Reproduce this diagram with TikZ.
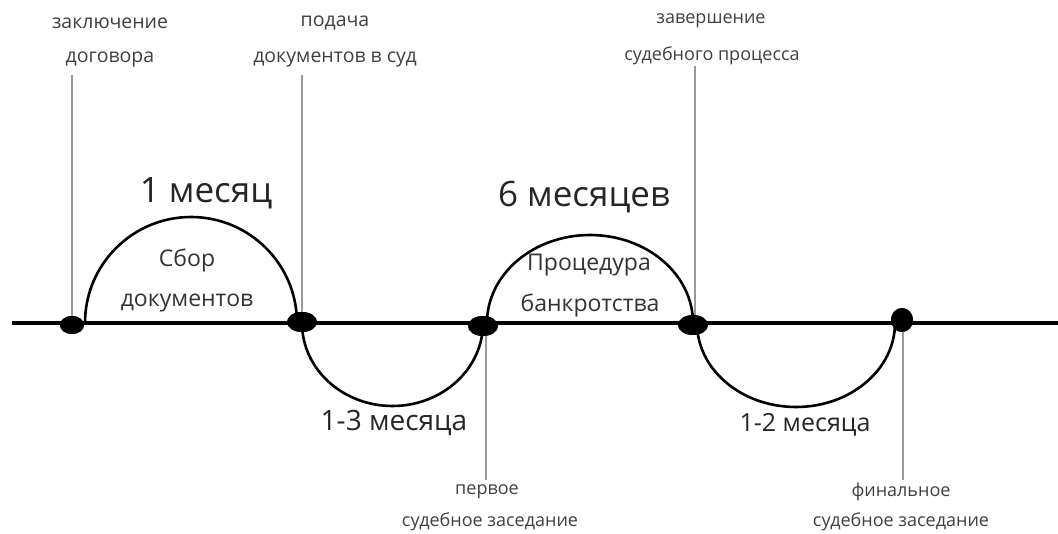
\documentclass[tikz,border=0pt]{standalone}
\usepackage{fontspec}
\setmainfont{Open Sans}
\usetikzlibrary{shapes.geometric}
\begin{document}
\begin{tikzpicture}[x=1pt,y=1pt,
  dot/.style={ellipse,fill=black,inner sep=0pt},
  guide/.style={draw=black!40,line width=1.3pt},
  arcline/.style={line width=2.6pt},
  lbl/.style={font=\fontsize{18}{18}\selectfont,text=black!75,inner sep=0pt},
  lblb/.style={font=\fontsize{19.5}{19.5}\selectfont,text=black!75,inner sep=0pt},
  big/.style={font=\fontsize{35}{35}\selectfont,text=black!85,inner sep=0pt},
  mid/.style={font=\fontsize{23}{23}\selectfont,text=black!80,inner sep=0pt}
]
\useasboundingbox (0,0) rectangle (1058,-534);
\fill[white] (0,0) rectangle (1058,-534);

% dots
\node[dot,minimum width=24pt,minimum height=18pt] (d1) at (72,-325) {};
\node[dot,minimum width=30pt,minimum height=20pt] (d2) at (302,-322) {};
\node[dot,minimum width=30pt,minimum height=20pt] (d3) at (483,-326) {};
\node[dot,minimum width=30pt,minimum height=20pt] (d4) at (693,-325) {};
\node[dot,minimum width=22pt,minimum height=24pt] (d5) at (902,-320) {};

% guide ends
\coordinate (g1) at (72,-75);
\coordinate (g2) at (302,-75);
\coordinate (g3) at (695,-66);
\coordinate (g4) at (486,-480);
\coordinate (g5) at (903,-480);

% guide lines
\draw[guide] (g1) -- (d1.center);
\draw[guide] (g2) -- (d2.center);
\draw[guide] (g3) -- (g3 |- d4.center);
\draw[guide] (g4) -- (g4 |- d3.center);
\draw[guide] (g5) -- (g5 |- d5.center);

% main line
\coordinate (L) at (12,-323);
\coordinate (R) at (1058,-323);
\draw[line width=3.2pt] (L) -- (R);
\draw[line width=4.6pt] (d2 |- L) -- (d5 |- L);

% arcs
\coordinate (a1) at (85,-323);
\coordinate (a2) at (302,-323);
\coordinate (a3) at (487,-323);
\coordinate (a4) at (697,-323);
\draw[arcline] (a1) arc[start angle=180,end angle=0,radius=106];
\draw[arcline] (a2) arc[start angle=180,end angle=360,x radius=90.5,y radius=83];
\draw[arcline] (a3) arc[start angle=180,end angle=0,x radius=103,y radius=88];
\draw[arcline] (a4) arc[start angle=180,end angle=360,x radius=99,y radius=84];

% redraw dots on top
\fill (d1.center) ellipse[x radius=12pt,y radius=9pt];
\fill (d2.center) ellipse[x radius=15pt,y radius=10pt];
\fill (d3.center) ellipse[x radius=15pt,y radius=10pt];
\fill (d4.center) ellipse[x radius=15pt,y radius=10pt];
\fill (d5.center) ellipse[x radius=11pt,y radius=12pt];

% top labels
\node[lblb] (t1a) at (110,-23) {заключение};
\node[lblb] (t1b) at (110,-60) {договора};
\node[lblb] (t2a) at (335,-23) {подача};
\node[lblb] (t2b) at (335,-60) {документов в суд};
\node[lbl] (t3a) at (711,-21) {завершение};
\node[lbl] (t3b) at (712,-56) {судебного процесса};

% bottom labels
\node[lbl] (b1a) at (487,-492) {первое};
\node[lbl] (b1b) at (490,-522) {судебное заседание};
\node[lbl] (b2a) at (901,-492) {финальное};
\node[lbl] (b2b) at (901,-522) {судебное заседание};

% durations
\node[big] (m1) at (206,-193) {1 месяц};
\node[big] (m2) at (584,-197) {6 месяцев};
\node[font=\fontsize{28}{28}\selectfont,text=black!85,inner sep=0pt] (m3) at (394,-423) {1-3 месяца};
\node[font=\fontsize{25}{25}\selectfont,text=black!85,inner sep=0pt] (m4) at (805,-425) {1-2 месяца};

% arc texts
\node[mid] (s1) at (187,-260) {Сбор};
\node[mid] (s2) at (187,-303) {документов};
\node[mid] (s3) at (589,-265) {Процедура};
\node[mid] (s4) at (590,-305) {банкротства};
\end{tikzpicture}
\end{document}
